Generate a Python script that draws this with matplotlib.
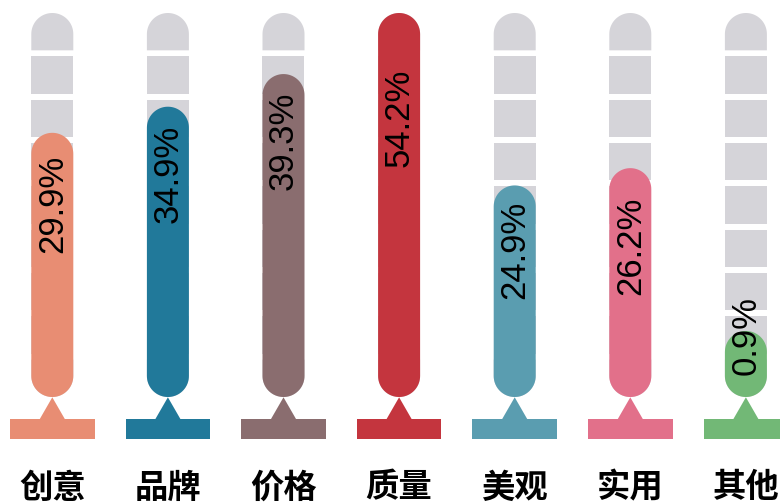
import numpy as np
import matplotlib
matplotlib.use("Agg")
import matplotlib.pyplot as plt
from matplotlib.path import Path
from matplotlib.patches import PathPatch, Rectangle, Polygon

# ---- data ----
categories = ["创意", "品牌", "价格", "质量", "美观", "实用", "其他"]
labels = ["29.9%", "34.9%", "39.3%", "54.2%", "24.9%", "26.2%", "0.9%"]
fill_levels = [68.8, 75.6, 84.1, 100.0, 55.1, 59.6, 17.2]   # bar height, % of track
label_levels = [50.3, 58.1, 66.7, 72.7, 38.3, 39.3, 15.9]  # label centre, % of track
colors = ["#E88D73", "#21799A", "#8A6D6F", "#C4353E", "#5A9DB0", "#E2708A", "#72B876"]
track_color = "#D5D4D9"

W, H, DPI = 7.8, 5.04, 100
fig = plt.figure(figsize=(W, H), dpi=DPI)
ax = fig.add_axes([0, 0, 1, 1])
ax.set_axis_off()

# pixel scales
px_x = 115.6          # px per category
px_y = 3.84           # px per track-%
x0_px = 52.3
y0_px_from_bottom = 504 - 397
ax.set_xlim(-x0_px / px_x, (780 - x0_px) / px_x)
ax.set_ylim(-y0_px_from_bottom / px_y, (504 - y0_px_from_bottom) / px_y)

r_px = 21.0
hw = r_px / px_x       # half width in x units
ry = r_px / px_y       # radius in y units


def stadium(cx, y_bot, y_top, round_bottom=True, round_top=True, n=40):
    verts = []
    if round_bottom:
        t = np.linspace(np.pi, 2 * np.pi, n)
        verts += list(zip(cx + hw * np.cos(t), y_bot + ry + ry * np.sin(t)))
    else:
        verts += [(cx - hw, y_bot), (cx + hw, y_bot)]
    if round_top:
        t = np.linspace(0, np.pi, n)
        verts += list(zip(cx + hw * np.cos(t), y_top - ry + ry * np.sin(t)))
    else:
        verts += [(cx + hw, y_top), (cx - hw, y_top)]
    verts.append(verts[0])
    codes = [Path.MOVETO] + [Path.LINETO] * (len(verts) - 2) + [Path.CLOSEPOLY]
    return Path(verts, codes)


n_seg = 9
gap = 6.0 / px_y
seg_h = (100 - (n_seg - 1) * gap) / n_seg

for i, (cat, lab, lvl, lpos, col) in enumerate(zip(categories, labels, fill_levels, label_levels, colors)):
    # track segments
    for s in range(n_seg):
        yb = s * (seg_h + gap)
        yt = yb + seg_h
        p = stadium(i, yb, yt, round_bottom=(s == 0), round_top=(s == n_seg - 1))
        ax.add_patch(PathPatch(p, facecolor=track_color, edgecolor="none", zorder=1))
    # bar
    ax.add_patch(PathPatch(stadium(i, 0, lvl), facecolor=col, edgecolor="none", zorder=2))
    # base
    bhw = 42.35 / px_x
    ax.add_patch(Rectangle((i - bhw, -42 / px_y), 2 * bhw, 20 / px_y,
                           facecolor=col, edgecolor="none", zorder=2))
    thw = 12.5 / px_x
    ax.add_patch(Polygon([(i - thw, -22 / px_y), (i + thw, -22 / px_y), (i, -0.3 / px_y)],
                         closed=True, facecolor=col, edgecolor="none", zorder=2))
    # value label
    ax.text(i, lpos, lab, rotation=90, ha="center", va="center", fontsize=25,
            family=["Liberation Sans", "DejaVu Sans"], color="black", zorder=3)
    # category label
    ax.text(i, -91 / px_y, cat, ha="center", va="center", fontsize=24, fontweight="bold",
            family=["Noto Sans CJK SC", "DejaVu Sans"], color="black", zorder=3)

fig.savefig("out.png", dpi=DPI)
